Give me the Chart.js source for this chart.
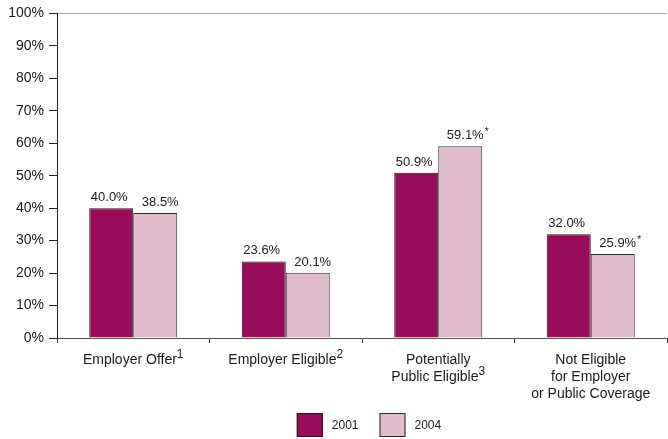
<!DOCTYPE html>
<html>
<head>
<meta charset="utf-8">
<script src="https://cdn.jsdelivr.net/npm/chart.js@4/dist/chart.umd.min.js"></script>
<style>
  html, body { margin: 0; padding: 0; background: #fff; }
  #wrap { width: 668px; height: 439px; }
</style>
</head>
<body>
<div id="wrap"><canvas id="chart"></canvas></div>
<script>
// Coverage groups, one entry per category (lines of the axis label)
const categoryLines = [
  ["Employer Offer"],
  ["Employer Eligible"],
  ["Potentially", "Public Eligible"],
  ["Not Eligible", "for Employer", "or Public Coverage"]
];
const footnotes = ["1", "2", "3", ""];

const years = ["2001", "2004"];
const values2001 = [40.0, 23.6, 50.9, 32.0];
const values2004 = [38.5, 20.1, 59.1, 25.9];
// significant change markers on the 2004 values
const marks2004 = ["", "", "*", "*"];

const yTicks = [0, 10, 20, 30, 40, 50, 60, 70, 80, 90, 100];

const textColor = "#1a1a1a";
const fontFamily = "'Liberation Sans', Arial, Helvetica, sans-serif";

// value labels above each bar
const barLabels = {
  id: "barLabels",
  afterDatasetsDraw(chart) {
    const ctx = chart.ctx;
    const marks = [["", "", "", ""], marks2004];
    const shift = [-2, 5];
    ctx.save();
    ctx.fillStyle = textColor;
    ctx.textBaseline = "alphabetic";
    chart.data.datasets.forEach((ds, d) => {
      chart.getDatasetMeta(d).data.forEach((bar, i) => {
        const text = ds.data[i].toFixed(1) + "%";
        const x = bar.x + shift[d];
        const y = bar.y - 7;
        ctx.font = "13px " + fontFamily;
        ctx.textAlign = "center";
        ctx.fillText(text, x, y);
        if (marks[d][i]) {
          const w = ctx.measureText(text).width;
          ctx.font = "10px " + fontFamily;
          ctx.textAlign = "left";
          ctx.fillText(marks[d][i], x + w / 2 + 1, y - 4);
        }
      });
    });
    ctx.restore();
  }
};

// multi-line category labels with superscript footnote numbers
const categoryText = {
  id: "categoryText",
  afterDraw(chart) {
    const ctx = chart.ctx;
    const xs = chart.scales.x;
    const top = chart.chartArea.bottom + 22;
    ctx.save();
    ctx.fillStyle = textColor;
    ctx.textBaseline = "middle";
    categoryLines.forEach((lines, i) => {
      const cx = xs.getPixelForValue(i);
      lines.forEach((line, k) => {
        const y = top + k * 17;
        const isLast = k === lines.length - 1;
        ctx.font = "14px " + fontFamily;
        const w = ctx.measureText(line).width;
        let sw = 0;
        if (isLast && footnotes[i]) {
          ctx.font = "12px " + fontFamily;
          sw = ctx.measureText(footnotes[i]).width;
        }
        const x0 = cx - (w + sw) / 2;
        ctx.font = "14px " + fontFamily;
        ctx.textAlign = "left";
        ctx.fillText(line, x0, y);
        if (sw) {
          ctx.font = "12px " + fontFamily;
          ctx.fillText(footnotes[i], x0 + w, y - 5);
        }
      });
    });
    ctx.restore();
  }
};

// legend row under the category labels
const yearLegend = {
  id: "yearLegend",
  afterDraw(chart) {
    const ctx = chart.ctx;
    const box = 26, boxH = 24, gap = 9, spacing = 21;
    ctx.save();
    ctx.font = "12px " + fontFamily;
    const items = chart.data.datasets.map(ds => ({
      text: ds.label,
      fill: ds.backgroundColor,
      stroke: ds.borderColor,
      w: box + gap + ctx.measureText(ds.label).width
    }));
    const total = items.reduce((s, it) => s + it.w, 0) + spacing * (items.length - 1);
    let x = (chart.chartArea.left + chart.chartArea.right) / 2 + 7 - total / 2;
    const y = 413;
    items.forEach(it => {
      ctx.fillStyle = it.fill;
      ctx.fillRect(x, y, box, boxH);
      ctx.strokeStyle = it.stroke;
      ctx.lineWidth = 1;
      ctx.strokeRect(x + 0.5, y + 0.5, box - 1, boxH - 1);
      ctx.fillStyle = textColor;
      ctx.textBaseline = "middle";
      ctx.textAlign = "left";
      ctx.fillText(it.text, x + box + gap, y + boxH / 2 + 1);
      x += it.w + spacing;
    });
    ctx.restore();
  }
};

new Chart(document.getElementById("chart"), {
  type: "bar",
  data: {
    labels: categoryLines.map(l => l.join(" ")),
    datasets: [
      {
        label: years[0],
        data: values2001,
        backgroundColor: "#990c5a",
        borderColor: "#2b1020",
        borderWidth: 1,
        borderSkipped: "bottom"
      },
      {
        label: years[1],
        data: values2004,
        backgroundColor: "#dfbacb",
        borderColor: "#2b2b2b",
        borderWidth: 1,
        borderSkipped: "bottom"
      }
    ]
  },
  options: {
    responsive: true,
    maintainAspectRatio: false,
    animation: false,
    datasets: {
      bar: { categoryPercentage: 0.577, barPercentage: 1.0 }
    },
    layout: { padding: { top: 12, right: 1, left: 0, bottom: 0 } },
    plugins: {
      tooltip: { enabled: false },
      legend: { display: false }
    },
    scales: {
      x: {
        grid: {
          offset: true,
          drawOnChartArea: false,
          tickLength: 5,
          tickColor: "#333"
        },
        border: { color: "#555", width: 1 },
        ticks: { display: false },
        afterFit(scale) { scale.height = 101; }
      },
      y: {
        min: 0,
        max: 100,
        afterBuildTicks(scale) { scale.ticks = yTicks.map(v => ({ value: v })); },
        grid: {
          drawOnChartArea: true,
          color: ctx => (ctx.tick && ctx.tick.value === 100 ? "#a8a8a8" : "rgba(0,0,0,0)"),
          tickColor: "#222",
          tickLength: 8
        },
        border: { color: "#222", width: 1 },
        ticks: {
          color: textColor,
          padding: 5,
          font: { size: 14, family: fontFamily },
          callback: v => v + "%"
        },
        afterFit(scale) { scale.width = 57; }
      }
    }
  },
  plugins: [barLabels, categoryText, yearLegend]
});
</script>
</body>
</html>
